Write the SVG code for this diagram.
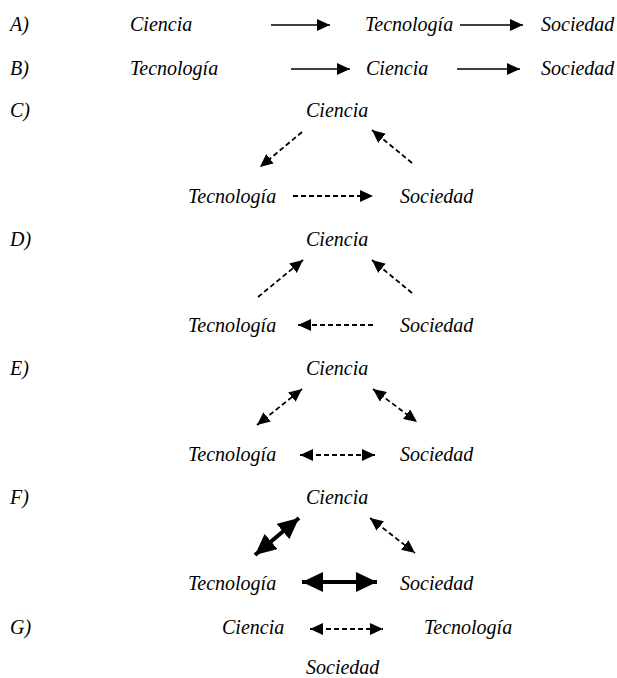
<svg xmlns="http://www.w3.org/2000/svg" width="617" height="678" viewBox="0 0 617 678">
<style>
text{font-family:"Liberation Serif","Times New Roman",serif;font-style:italic;font-size:20px;fill:#000}
.s{stroke:#000;stroke-width:1.6;fill:none}
.d{stroke:#000;stroke-width:1.8;fill:none;stroke-dasharray:5,3}
.t{stroke:#000;stroke-width:4;fill:none}
</style>
<defs>
<marker id="ah" markerUnits="userSpaceOnUse" markerWidth="14" markerHeight="12" refX="13" refY="6" orient="auto-start-reverse"><path d="M0,0 L13,6 L0,12 Z" fill="#000"/></marker>
<marker id="ad" markerUnits="userSpaceOnUse" markerWidth="14" markerHeight="12" refX="13" refY="6" orient="auto-start-reverse"><path d="M0,0 L13,6 L0,12 Z" fill="#000"/></marker>
<marker id="at" markerUnits="userSpaceOnUse" markerWidth="22" markerHeight="20" refX="21" refY="10" orient="auto-start-reverse"><path d="M0,0 L21,10 L0,20 Z" fill="#000"/></marker>
</defs>
<g id="labels">
<text x="10" y="31">A)</text>
<text x="10" y="75">B)</text>
<text x="10" y="117">C)</text>
<text x="10" y="246">D)</text>
<text x="10" y="375">E)</text>
<text x="10" y="504">F)</text>
<text x="10" y="634">G)</text>
</g>
<g id="A">
<g id="A-ciencia"><text x="130" y="31">Ciencia</text></g>
<g id="A-tecnologia"><text x="365" y="31">Tecnología</text></g>
<g id="A-sociedad"><text x="541" y="31">Sociedad</text></g>
</g>
<g id="B">
<g id="B-tecnologia"><text x="130" y="75">Tecnología</text></g>
<g id="B-ciencia"><text x="366" y="75">Ciencia</text></g>
<g id="B-sociedad"><text x="541" y="75">Sociedad</text></g>
</g>
<g id="C">
<g id="C-ciencia"><text x="306" y="117">Ciencia</text></g>
<g id="C-tecnologia"><text x="188" y="203">Tecnología</text></g>
<g id="C-sociedad"><text x="400" y="203">Sociedad</text></g>
</g>
<g id="D">
<g id="D-ciencia"><text x="306" y="246">Ciencia</text></g>
<g id="D-tecnologia"><text x="188" y="332">Tecnología</text></g>
<g id="D-sociedad"><text x="400" y="332">Sociedad</text></g>
</g>
<g id="E">
<g id="E-ciencia"><text x="306" y="375">Ciencia</text></g>
<g id="E-tecnologia"><text x="188" y="461">Tecnología</text></g>
<g id="E-sociedad"><text x="400" y="461">Sociedad</text></g>
</g>
<g id="F">
<g id="F-ciencia"><text x="306" y="504">Ciencia</text></g>
<g id="F-tecnologia"><text x="188" y="590">Tecnología</text></g>
<g id="F-sociedad"><text x="400" y="590">Sociedad</text></g>
</g>
<g id="G">
<g id="G-ciencia"><text x="222" y="634">Ciencia</text></g>
<g id="G-tecnologia"><text x="424" y="634">Tecnología</text></g>
<g id="G-sociedad"><text x="306" y="674">Sociedad</text></g>
</g>
<g id="connectors">
<line class="s" x1="271" y1="25" x2="330" y2="25" marker-end="url(#ah)"/>
<line class="s" x1="460" y1="25" x2="523" y2="25" marker-end="url(#ah)"/>
<line class="s" x1="291" y1="69" x2="350" y2="69" marker-end="url(#ah)"/>
<line class="s" x1="457" y1="69" x2="520" y2="69" marker-end="url(#ah)"/>

<line class="d" x1="302" y1="132" x2="260" y2="167" marker-end="url(#ad)"/>
<line class="d" x1="412" y1="163" x2="372" y2="130" marker-end="url(#ad)"/>
<line class="d" x1="293" y1="196" x2="373" y2="196" marker-end="url(#ad)"/>

<line class="d" x1="258" y1="297" x2="303" y2="260" marker-end="url(#ad)"/>
<line class="d" x1="412" y1="293" x2="372" y2="260" marker-end="url(#ad)"/>
<line class="d" x1="373" y1="325" x2="298" y2="325" marker-end="url(#ad)"/>

<line class="d" x1="257" y1="425" x2="302" y2="389" marker-start="url(#ad)" marker-end="url(#ad)"/>
<line class="d" x1="373" y1="389" x2="417" y2="422" marker-start="url(#ad)" marker-end="url(#ad)"/>
<line class="d" x1="300" y1="455" x2="375" y2="455" marker-start="url(#ad)" marker-end="url(#ad)"/>

<line class="t" x1="255" y1="555" x2="299" y2="518" marker-start="url(#at)" marker-end="url(#at)"/>
<line class="d" x1="370" y1="518" x2="415" y2="553" marker-start="url(#ad)" marker-end="url(#ad)"/>
<line class="t" x1="302" y1="582" x2="377" y2="582" marker-start="url(#at)" marker-end="url(#at)"/>

<line class="d" x1="310" y1="629" x2="383" y2="629" marker-start="url(#ad)" marker-end="url(#ad)"/>
</g>
</svg>
